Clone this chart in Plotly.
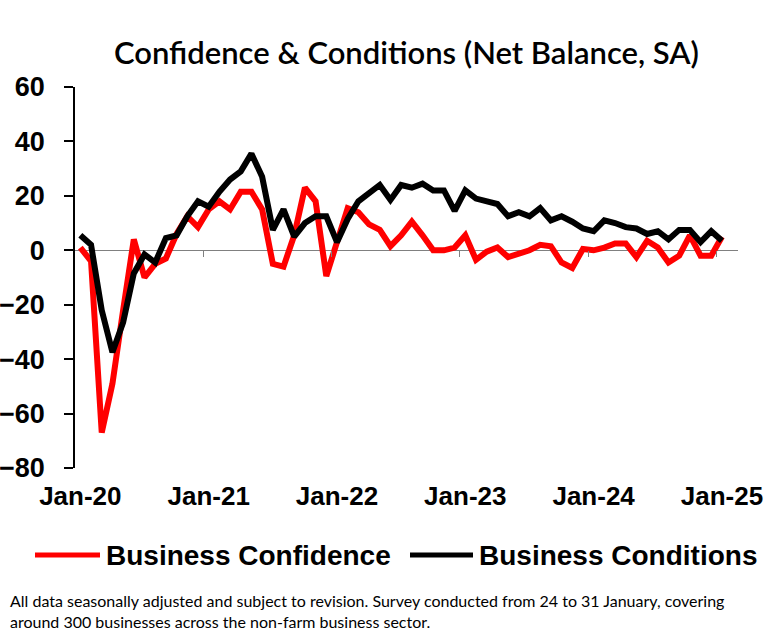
import plotly.graph_objects as go

# Monthly survey readings, Jan-20 .. Jan-25 (net balance, SA)
months = [f"{m}-{y}" for y in range(20, 26)
          for m in ["Jan", "Feb", "Mar", "Apr", "May", "Jun",
                    "Jul", "Aug", "Sep", "Oct", "Nov", "Dec"]][:61]

business_confidence = [
    1, -4, -67, -49, -22, 4, -10, -5, -3, 6, 12.5, 8.5,
    15, 18, 15, 21.5, 21.5, 15, -5, -6, 5.5, 23, 18, -9.5,
    3, 15.5, 14, 9.5, 7.5, 1.5, 5.5, 10.5, 5.5, 0, 0, 1,
    5.5, -3.5, -0.5, 1, -2.5, -1.5, 0, 2, 1.5, -4.5,
    -6.5, 0.5, 0, 1, 2.5, 2.5, -2.5, 3.5, 1, -4.5, -2, 5.5,
    -2, -2, 5,
]

business_conditions = [
    5.5, 2, -22, -37.5, -26.5, -8.5, -1.5, -4.5, 4.5, 5.5, 12.5, 18,
    16, 21.5, 26, 29, 35.5, 27, 7.5, 15, 5, 10, 12.5, 12.5,
    3, 11.5, 18, 21, 24, 18.5, 24, 23, 24.5, 22, 22, 14.5,
    22, 19, 18, 17, 12.5, 14, 12.5, 15.5, 11, 12.5,
    10.5, 8, 7, 11, 10, 8.5, 8, 6, 7, 4, 7.5, 7.5,
    3, 7, 3.5,
]

tick_labels = ["Jan-20", "Jan-21", "Jan-22", "Jan-23", "Jan-24", "Jan-25"]

series_names = ["Business Confidence", "Business Conditions"]
series_colors = ["#FF0000", "#000000"]

y_min, y_max = -80, 60
x_index = list(range(len(months)))
label_pos = [months.index(t) for t in tick_labels]
# Year boundaries sit half a month before each January.
boundary_pos = [p - 0.5 for p in label_pos[1:]]

W, H = 772, 636
margin = dict(l=75, r=34, t=87, b=168)
plot_w = W - margin["l"] - margin["r"]
plot_h = H - margin["t"] - margin["b"]


def px_to_paper_x(px):
    return (px - margin["l"]) / plot_w


def px_to_paper_y(py):
    return (H - margin["b"] - py) / plot_h


bold = dict(family="Liberation Sans, Arial, sans-serif", color="black",
            weight="bold")
soft = dict(family="Lato, Calibri, sans-serif", color="black")

fig = go.Figure()

fig.add_trace(go.Scatter(
    x=x_index, y=business_confidence, mode="lines",
    name=series_names[0], xaxis="x", yaxis="y",
    line=dict(color=series_colors[0], width=6),
))
fig.add_trace(go.Scatter(
    x=x_index, y=business_conditions, mode="lines",
    name=series_names[1], xaxis="x2", yaxis="y",
    line=dict(color=series_colors[1], width=6),
))

fig.update_layout(
    width=W, height=H, autosize=False,
    margin=dict(margin, autoexpand=False),
    paper_bgcolor="white", plot_bgcolor="white",
    showlegend=False,
    title=dict(
        text="Confidence & Conditions (Net Balance, SA)",
        font=dict(size=31, weight=600, **soft),
        xref="paper", x=0.5, xanchor="center",
        yref="container", y=1 - 53 / H, yanchor="middle",
    ),
    xaxis=dict(
        range=[-0.5, 61.5], automargin=False,
        tickvals=label_pos, ticktext=tick_labels,
        ticks="", showline=False, showgrid=False, zeroline=False,
        tickfont=dict(size=26, **bold),
        ticklabelstandoff=10,
    ),
    xaxis2=dict(
        range=[-0.5, 61.5], overlaying="x", automargin=False,
        anchor="free", position=(0 - y_min) / (y_max - y_min),
        tickvals=boundary_pos, showticklabels=False,
        ticks="outside", ticklen=6, tickwidth=1, tickcolor="#808080",
        showline=False, showgrid=False, zeroline=False,
    ),
    yaxis=dict(
        range=[y_min, y_max], dtick=20, automargin=False,
        showline=True, linecolor="black", linewidth=1.5,
        ticks="outside", ticklen=9, tickwidth=1.5, tickcolor="black",
        showgrid=False,
        zeroline=True, zerolinecolor="#808080", zerolinewidth=1,
        tickfont=dict(size=27, **bold),
        ticklabelstandoff=14,
    ),
)

# Hand-placed legend: long line swatch followed by the series name.
legend_y = px_to_paper_y(555)
swatches = [(35, 100), (410, 473)]
for name, color, (x0, x1) in zip(series_names, series_colors, swatches):
    fig.add_shape(
        type="line", xref="paper", yref="paper",
        x0=px_to_paper_x(x0), x1=px_to_paper_x(x1),
        y0=legend_y, y1=legend_y,
        line=dict(color=color, width=5),
    )
    fig.add_annotation(
        text=name, xref="paper", yref="paper",
        x=px_to_paper_x(x1 + 4), xanchor="left",
        y=legend_y, yanchor="middle",
        showarrow=False, font=dict(size=28, **bold),
    )

fig.add_annotation(
    text=("All data seasonally adjusted and subject to revision. Survey conducted "
          "from 24 to 31 January, covering<br>around 300 businesses across the "
          "non-farm business sector."),
    xref="paper", yref="paper",
    x=px_to_paper_x(8), xanchor="left",
    y=px_to_paper_y(589), yanchor="top",
    align="left", showarrow=False,
    font=dict(size=16, **soft),
)

# Drop the browser's default body margin so the figure sits at the corner.
fig.write_html(
    "out.html",
    config={"displayModeBar": False},
    post_script="document.body.style.margin='0';",
)
